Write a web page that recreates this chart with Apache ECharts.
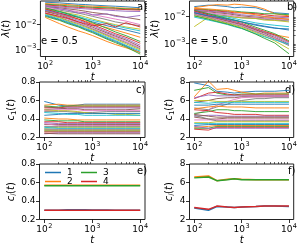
<!DOCTYPE html>
<html><head><meta charset="utf-8">
<script src="https://cdn.jsdelivr.net/npm/echarts@6/dist/echarts.min.js"></script>
<style>html,body{margin:0;padding:0;background:#fff}#c{width:300px;height:250px}</style>
</head><body><div id="c"></div>
<script>
// time points (x)
const T = [100, 200, 300, 500, 700, 1000, 2000, 3000, 5000, 10000];
const xTicks = [100, 1000, 10000];
const xMinor = [200,300,400,500,600,700,800,900,2000,3000,4000,5000,6000,7000,8000,9000];
const yTicksA = [0.001, 0.01];
const yTicksB = [0.001, 0.01];
const yMinorLog = [0.0005,0.0006,0.0007,0.0008,0.0009,0.002,0.003,0.004,0.005,0.006,0.007,0.008,0.009,0.02,0.03,0.04,0.05,0.06,0.07,0.08,0.09];
const yTicksC = [0.2, 0.4, 0.6, 0.8];
const yTicksD = [2, 4, 6, 8];
const panelLabels = ['a)', 'b)', 'c)', 'd)', 'e)', 'f)'];
const legendNames = ['1', '2', '3', '4'];

// panel a: lambda(t), e = 0.5
const lamA = [
 [0.085,0.08,0.075,0.07,0.068,0.065,0.06,0.058,0.055,0.05],
 [0.075,0.07,0.068,0.062,0.06,0.058,0.055,0.05,0.048,0.045],
 [0.07,0.065,0.06,0.058,0.055,0.052,0.05,0.048,0.045,0.042],
 [0.065,0.06,0.055,0.052,0.05,0.048,0.045,0.044,0.042,0.04],
 [0.06,0.055,0.05,0.047,0.045,0.043,0.04,0.038,0.036,0.035],
 [0.055,0.05,0.045,0.04,0.036,0.032,0.027,0.024,0.02,0.016],
 [0.05,0.045,0.04,0.034,0.03,0.026,0.02,0.017,0.014,0.01],
 [0.045,0.04,0.035,0.03,0.026,0.022,0.016,0.013,0.011,0.009],
 [0.042,0.036,0.03,0.025,0.021,0.017,0.012,0.01,0.008,0.0065],
 [0.04,0.034,0.028,0.022,0.018,0.015,0.011,0.009,0.0072,0.0055],
 [0.038,0.03,0.025,0.02,0.016,0.013,0.009,0.0075,0.006,0.0043],
 [0.035,0.028,0.022,0.017,0.014,0.011,0.0075,0.006,0.0045,0.003],
 [0.05,0.035,0.028,0.02,0.016,0.012,0.007,0.005,0.0035,0.002],
 [0.045,0.03,0.024,0.017,0.013,0.01,0.0058,0.0042,0.003,0.0017],
 [0.04,0.028,0.021,0.015,0.012,0.009,0.005,0.0037,0.0026,0.0014],
 [0.035,0.025,0.019,0.013,0.01,0.0078,0.0045,0.0033,0.0023,0.0012],
 [0.032,0.022,0.017,0.012,0.0092,0.007,0.004,0.003,0.002,0.0011],
 [0.03,0.02,0.015,0.011,0.0085,0.0065,0.0037,0.0027,0.0018,0.001],
 [0.028,0.019,0.014,0.01,0.0078,0.006,0.0034,0.0025,0.0016,0.0009],
 [0.026,0.017,0.013,0.009,0.007,0.0054,0.003,0.0022,0.0014,0.0008],
 [0.024,0.016,0.012,0.0085,0.0065,0.005,0.0027,0.002,0.0013,0.0007],
 [0.02,0.011,0.008,0.0055,0.0045,0.0035,0.002,0.0015,0.0011,0.0007],
 [0.022,0.015,0.011,0.008,0.006,0.0046,0.0025,0.0018,0.0012,0.0006],
 [0.03,0.022,0.018,0.013,0.011,0.009,0.011,0.008,0.012,0.008],
 [0.06,0.045,0.04,0.03,0.032,0.025,0.028,0.022,0.02,0.024]
];
// panel b: lambda(t), e = 5.0
const lamB = [
 [0.022,0.025,0.024,0.022,0.02,0.021,0.02,0.016,0.013,0.012],
 [0.02,0.024,0.026,0.025,0.027,0.026,0.022,0.018,0.012,0.01],
 [0.018,0.017,0.016,0.015,0.015,0.014,0.013,0.012,0.012,0.011],
 [0.017,0.016,0.015,0.014,0.013,0.013,0.012,0.011,0.01,0.0095],
 [0.016,0.015,0.014,0.013,0.012,0.011,0.01,0.0095,0.009,0.0085],
 [0.015,0.014,0.013,0.012,0.011,0.01,0.009,0.0085,0.008,0.0075],
 [0.015,0.013,0.012,0.011,0.01,0.009,0.0085,0.008,0.0075,0.007],
 [0.014,0.012,0.011,0.01,0.009,0.0085,0.008,0.0075,0.007,0.0065],
 [0.004,0.009,0.01,0.0095,0.009,0.0085,0.008,0.007,0.0068,0.006],
 [0.013,0.011,0.01,0.009,0.008,0.007,0.0055,0.005,0.0045,0.004],
 [0.012,0.01,0.009,0.008,0.007,0.006,0.0045,0.004,0.0035,0.0033],
 [0.012,0.009,0.008,0.0065,0.0055,0.0047,0.003,0.0025,0.002,0.0016],
 [0.016,0.012,0.01,0.008,0.007,0.006,0.0038,0.003,0.0022,0.0012],
 [0.015,0.011,0.009,0.0072,0.0062,0.0053,0.0034,0.0027,0.002,0.0011],
 [0.014,0.01,0.0085,0.0068,0.0058,0.005,0.0032,0.0025,0.0018,0.001],
 [0.013,0.0095,0.008,0.0064,0.0055,0.0047,0.003,0.0023,0.0016,0.0009],
 [0.012,0.009,0.0075,0.006,0.0052,0.0044,0.0028,0.0021,0.0015,0.00085],
 [0.011,0.0085,0.007,0.0056,0.0048,0.0041,0.0026,0.002,0.0014,0.0008],
 [0.01,0.008,0.0066,0.0053,0.0045,0.0038,0.0024,0.0018,0.0012,0.0006],
 [0.009,0.007,0.006,0.0048,0.004,0.0034,0.0022,0.0017,0.0013,0.0009],
 [0.013,0.01,0.009,0.0075,0.0068,0.006,0.0048,0.0042,0.0036,0.003],
 [0.019,0.018,0.017,0.016,0.014,0.013,0.011,0.0095,0.0085,0.0075],
 [0.01,0.0075,0.0062,0.005,0.0042,0.0035,0.0021,0.0015,0.001,0.0004]
];
// panel c: c1(t), e = 0.5
const c1C = [
 [0.59,0.55,0.54,0.55,0.56,0.56,0.56,0.56,0.56,0.56],
 [0.55,0.56,0.55,0.55,0.55,0.55,0.55,0.55,0.55,0.55],
 [0.54,0.53,0.54,0.54,0.54,0.54,0.54,0.54,0.54,0.54],
 [0.52,0.52,0.53,0.53,0.53,0.53,0.53,0.53,0.53,0.53],
 [0.5,0.51,0.52,0.52,0.52,0.52,0.52,0.52,0.52,0.52],
 [0.53,0.52,0.51,0.51,0.5,0.5,0.5,0.5,0.5,0.51],
 [0.49,0.5,0.5,0.5,0.49,0.49,0.49,0.49,0.49,0.49],
 [0.48,0.48,0.48,0.47,0.47,0.47,0.48,0.48,0.48,0.48],
 [0.5,0.49,0.49,0.48,0.47,0.46,0.46,0.45,0.45,0.44],
 [0.47,0.46,0.45,0.45,0.44,0.44,0.44,0.44,0.44,0.44],
 [0.44,0.45,0.46,0.46,0.46,0.46,0.46,0.46,0.46,0.46],
 [0.41,0.4,0.4,0.39,0.39,0.39,0.39,0.39,0.39,0.39],
 [0.39,0.38,0.38,0.38,0.37,0.37,0.37,0.37,0.37,0.37],
 [0.37,0.37,0.36,0.36,0.36,0.36,0.36,0.36,0.36,0.36],
 [0.36,0.35,0.35,0.35,0.35,0.35,0.35,0.35,0.35,0.35],
 [0.34,0.34,0.34,0.34,0.34,0.34,0.34,0.34,0.34,0.34],
 [0.35,0.33,0.33,0.33,0.33,0.33,0.33,0.33,0.33,0.33],
 [0.32,0.32,0.32,0.32,0.32,0.32,0.32,0.32,0.32,0.32],
 [0.3,0.31,0.31,0.31,0.31,0.31,0.31,0.31,0.31,0.31],
 [0.31,0.3,0.3,0.3,0.3,0.3,0.3,0.3,0.3,0.3],
 [0.29,0.29,0.29,0.29,0.29,0.29,0.29,0.29,0.29,0.29],
 [0.28,0.28,0.28,0.28,0.28,0.28,0.28,0.28,0.28,0.28],
 [0.27,0.27,0.27,0.27,0.27,0.27,0.27,0.27,0.27,0.27],
 [0.26,0.26,0.26,0.26,0.26,0.26,0.26,0.26,0.26,0.26],
 [0.24,0.25,0.25,0.25,0.25,0.25,0.25,0.25,0.25,0.25],
 [0.245,0.24,0.24,0.24,0.24,0.24,0.24,0.24,0.24,0.24]
];
// panel d: c1(t), e = 5.0
const c1D = [
 [7.9,7.6,7.0,6.9,6.8,6.9,7.0,7.0,7.0,7.1],
 [6.4,8.1,7.2,7.3,7.1,6.9,6.7,6.8,6.8,6.8],
 [7.1,7.4,6.8,6.6,6.6,6.7,6.7,6.7,6.7,6.7],
 [6.2,6.8,6.9,6.7,6.6,6.6,6.6,6.6,6.6,6.6],
 [6.3,6.6,6.5,6.5,6.5,6.5,6.5,6.5,6.5,6.5],
 [5.8,6.0,6.2,6.3,6.3,6.4,6.4,6.4,6.4,6.4],
 [4.5,5.0,5.5,5.9,6.1,6.3,6.4,6.4,6.4,6.4],
 [5.2,5.0,5.3,5.6,5.9,6.0,6.2,6.2,6.3,6.3],
 [6.0,6.0,5.9,5.9,5.9,5.9,5.9,5.9,5.9,5.9],
 [5.8,5.7,5.8,5.8,5.8,5.8,5.8,5.8,5.8,5.8],
 [5.5,5.5,5.6,5.6,5.6,5.6,5.6,5.6,5.6,5.6],
 [5.1,5.3,5.4,5.3,5.3,5.3,5.2,5.2,5.2,5.2],
 [4.6,4.8,5.0,5.0,4.9,4.9,4.8,4.8,4.8,4.8],
 [5.0,4.9,4.7,4.6,4.5,4.5,4.5,4.4,4.4,4.4],
 [4.3,4.4,4.4,4.3,4.3,4.3,4.3,4.3,4.3,4.3],
 [4.2,4.0,4.0,4.1,4.1,4.1,4.1,4.1,4.1,4.1],
 [3.9,3.9,3.9,3.9,3.9,3.9,3.9,3.9,3.9,3.9],
 [4.4,4.0,3.8,3.8,3.8,3.8,3.8,3.8,3.8,3.8],
 [3.6,3.6,3.7,3.7,3.7,3.7,3.7,3.7,3.7,3.7],
 [3.5,3.5,3.5,3.5,3.5,3.5,3.5,3.5,3.5,3.5],
 [3.3,3.4,3.4,3.4,3.4,3.4,3.4,3.4,3.4,3.4],
 [3.1,3.2,3.3,3.3,3.3,3.3,3.3,3.3,3.3,3.3],
 [3.0,3.0,3.2,3.2,3.2,3.2,3.2,3.2,3.2,3.2],
 [2.9,2.8,3.1,3.1,3.1,3.1,3.1,3.1,3.1,3.1],
 [3.2,3.0,3.0,3.0,3.0,3.0,3.0,3.0,3.0,3.0],
 [4.5,4.3,4.2,4.2,4.2,4.2,4.2,4.2,4.2,4.2]
];
// panel e: c_i(t), e = 0.5
const ciE1 = [0.30,0.30,0.305,0.305,0.305,0.303,0.302,0.30,0.30,0.30];
const ciE2 = [0.57,0.57,0.57,0.57,0.57,0.57,0.57,0.57,0.57,0.57];
const ciE3 = [0.565,0.565,0.565,0.565,0.565,0.565,0.565,0.565,0.565,0.565];
const ciE4 = [0.30,0.30,0.30,0.30,0.30,0.30,0.30,0.30,0.30,0.30];
// panel f: c_i(t), e = 5.0
const ciF1 = [3.25,3.0,3.4,3.35,3.3,3.35,3.4,3.45,3.45,3.4];
const ciF2 = [6.6,6.7,6.2,6.35,6.4,6.35,6.3,6.3,6.3,6.3];
const ciF3 = [6.5,6.6,6.2,6.3,6.4,6.3,6.3,6.3,6.3,6.3];
const ciF4 = [3.3,3.1,3.45,3.35,3.3,3.35,3.4,3.45,3.45,3.45];

const PAL = ['#1f77b4','#ff7f0e','#2ca02c','#d62728','#9467bd','#8c564b','#e377c2','#7f7f7f','#bcbd22','#17becf'];
const FONT = 'DejaVu Sans';
const INK = '#000';

const L = [39.5, 189.5], TOPS = [1, 82, 164], W = 105.5, H = 55.5;
const grids = [];
for (let r = 0; r < 3; r++) for (let c = 0; c < 2; c++)
  grids.push({left: L[c], top: TOPS[r], width: W, height: H, show: true, borderColor: '#222', borderWidth: 1, backgroundColor: 'transparent'});

const supRich = {
  b: {fontSize: 9, fontFamily: FONT, color: INK, lineHeight: 12, verticalAlign: 'bottom'},
  s: {fontSize: 6.5, fontFamily: FONT, color: INK, lineHeight: 12, verticalAlign: 'top', padding: [0, 0, 0, 0.5]}
};
function logFmt(v) {
  const e = Math.round(Math.log10(v));
  return '{b|10}{s|' + String(e).replace('-', '\u2212') + '}';
}
const nameRich = {
  it: {fontSize: 10, fontFamily: FONT, fontStyle: 'italic', color: INK},
  n: {fontSize: 10, fontFamily: FONT, color: INK},
  sub: {fontSize: 7, fontFamily: FONT, fontStyle: 'italic', color: INK, verticalAlign: 'bottom', padding: [5, 0, 0, 0]},
  sub1: {fontSize: 7, fontFamily: FONT, color: INK, verticalAlign: 'bottom', padding: [5, 0, 0, 0]}
};

const xAxes = [], yAxes = [];
for (let g = 0; g < 6; g++) {
  xAxes.push({
    type: 'log', logBase: 10, gridIndex: g, min: Math.pow(10, 1.9), max: Math.pow(10, 4.1),
    axisLine: {show: false}, splitLine: {show: false},
    axisTick: {show: true, customValues: xTicks, length: 3.5, lineStyle: {color: INK, width: 0.8}},
    axisLabel: {show: true, customValues: xTicks, formatter: logFmt, margin: 3, rich: supRich},
    name: '{it|t}', nameLocation: 'middle', nameGap: 16, nameTextStyle: {rich: nameRich}
  });
  xAxes.push({
    type: 'log', logBase: 10, gridIndex: g, min: Math.pow(10, 1.9), max: Math.pow(10, 4.1),
    axisLine: {show: false}, splitLine: {show: false}, axisLabel: {show: false},
    axisTick: {show: true, customValues: xMinor, length: 2, lineStyle: {color: INK, width: 0.6}}
  });
}
const yDefs = [
  {type: 'log', min: Math.pow(10, -3.32), max: Math.pow(10, -1.02), ticks: yTicksA, name: '{it|\u03bb}{n|(}{it|t}{n|)}', gap: 23},
  {type: 'log', min: Math.pow(10, -3.5), max: Math.pow(10, -1.45), ticks: yTicksB, name: '{it|\u03bb}{n|(}{it|t}{n|)}', gap: 21},
  {type: 'value', min: 0.2, max: 0.8, ticks: yTicksC, name: '{it|c}{sub1|1}{n|(}{it|t}{n|)}', gap: 22},
  {type: 'value', min: 2, max: 8, ticks: yTicksD, name: '{it|c}{sub1|1}{n|(}{it|t}{n|)}', gap: 14},
  {type: 'value', min: 0.2, max: 0.8, ticks: yTicksC, name: '{it|c}{sub|i}{n|(}{it|t}{n|)}', gap: 22},
  {type: 'value', min: 2, max: 8, ticks: yTicksD, name: '{it|c}{sub|i}{n|(}{it|t}{n|)}', gap: 14}
];
yDefs.forEach((d, g) => {
  const ax = {
    type: d.type, gridIndex: g, min: d.min, max: d.max,
    axisLine: {show: false}, splitLine: {show: false},
    axisTick: {show: true, customValues: d.ticks, length: 3.5, lineStyle: {color: INK, width: 0.8}},
    axisLabel: {show: true, customValues: d.ticks, margin: 4, fontSize: 9, fontFamily: FONT, color: INK},
    name: d.name, nameLocation: 'middle', nameGap: d.gap, nameRotate: 90, nameTextStyle: {rich: nameRich}
  };
  if (d.type === 'log') { ax.logBase = 10; ax.axisLabel.formatter = logFmt; ax.axisLabel.rich = supRich; }
  else if (d.min < 1) { ax.axisLabel.formatter = v => v.toFixed(1); }
  else { ax.axisLabel.formatter = v => String(Math.round(v)); }
  yAxes.push(ax);
});
// minor y ticks on the two log panels
[0, 1].forEach(g => {
  yAxes.push({
    type: 'log', logBase: 10, gridIndex: g, min: yDefs[g].min, max: yDefs[g].max,
    axisLine: {show: false}, splitLine: {show: false}, axisLabel: {show: false},
    axisTick: {show: true, customValues: yMinorLog.filter(v => v > yDefs[g].min && v < yDefs[g].max), length: 2, lineStyle: {color: INK, width: 0.6}}
  });
});

const series = [];
function addPanel(g, list, width) {
  list.forEach((vals, k) => {
    series.push({
      type: 'line', xAxisIndex: 2 * g, yAxisIndex: g, showSymbol: false, symbol: 'none', silent: true,
      animation: false, data: vals.map((v, i) => [T[i], v]),
      lineStyle: {width: width, color: PAL[k % 10]}
    });
  });
}
addPanel(0, lamA, 0.9);
addPanel(1, lamB, 0.9);
addPanel(2, c1C, 0.9);
addPanel(3, c1D, 0.9);
[ciE1, ciE2, ciE3, ciE4].forEach((vals, k) => series.push({
  name: legendNames[k], type: 'line', xAxisIndex: 8, yAxisIndex: 4, showSymbol: false, symbol: 'none', animation: false,
  data: vals.map((v, i) => [T[i], v]), lineStyle: {width: 1.5, color: PAL[k]}, itemStyle: {color: PAL[k]}
}));
[ciF1, ciF2, ciF3, ciF4].forEach((vals, k) => series.push({
  type: 'line', xAxisIndex: 10, yAxisIndex: 5, showSymbol: false, symbol: 'none', animation: false,
  data: vals.map((v, i) => [T[i], v]), lineStyle: {width: 1.5, color: PAL[k]}
}));

const lblPos = [[137, 8], [287, 8], [136, 91], [285, 91], [137, 172], [288, 172]];
const graphic = panelLabels.map((t, i) => ({
  type: 'text', left: lblPos[i][0], top: lblPos[i][1] - 6,
  style: {text: t, fontSize: 10, fontFamily: FONT, fill: INK}
}));
graphic.push({type: 'text', left: 41, top: 36, style: {text: 'e = 0.5', fontSize: 10, fontFamily: FONT, fill: INK}});
graphic.push({type: 'text', left: 191, top: 36, style: {text: 'e = 5.0', fontSize: 10, fontFamily: FONT, fill: INK}});

const legStyle = {orient: 'vertical', icon: 'rect', itemWidth: 16, itemHeight: 1.5, itemGap: 0, textStyle: {fontSize: 9, fontFamily: FONT, color: INK, padding: [0, 0, 0, 1]}, selectedMode: false, padding: 0};
const chart = echarts.init(document.getElementById('c'), null, {renderer: 'canvas'});
chart.setOption({
  animation: false,
  backgroundColor: '#fff',
  grid: grids, xAxis: xAxes, yAxis: yAxes, series: series, graphic: graphic,
  legend: [
    Object.assign({data: ['1', '2'], left: 45, top: 168}, legStyle),
    Object.assign({data: ['3', '4'], left: 81, top: 168}, legStyle)
  ]
});
</script></body></html>
